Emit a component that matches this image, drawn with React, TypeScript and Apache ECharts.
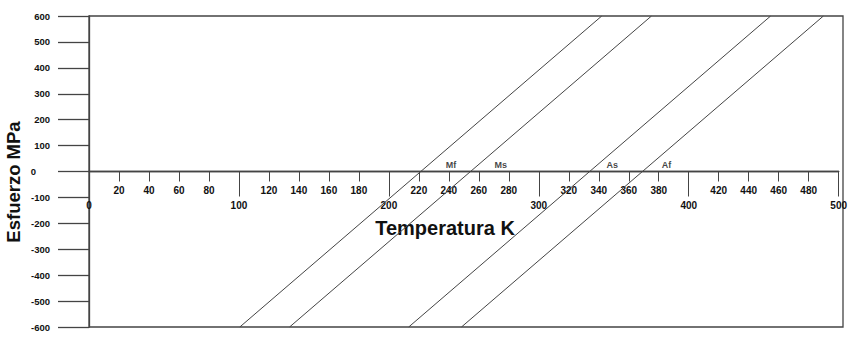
import React, { useEffect, useRef } from "react";
import * as echarts from "echarts";

// Transformation lines (temperature K, stress MPa)
const mfLine: [number, number][] = [[100, -600], [340, 600]];
const msLine: [number, number][] = [[133, -600], [373, 600]];
const asLine: [number, number][] = [[212, -600], [452, 600]];
const afLine: [number, number][] = [[247, -600], [487, 600]];

const lineNames = ["Mf", "Ms", "As", "Af"];
const labelX = [240, 273, 347, 383];
const labelY = [26, 25, 26, 27];

const xMinorTicks = [20, 40, 60, 80, 120, 140, 160, 180, 220, 240, 260, 280, 320, 340, 360, 380, 420, 440, 460, 480];
const xMajorTicks = [0, 100, 200, 300, 400, 500];

const INK = "#111";
const LINE = "#444";

export default function App() {
  const ref = useRef<HTMLDivElement>(null);
  useEffect(() => {
    if (!ref.current) return;
    const chart = echarts.init(ref.current, undefined, { renderer: "svg" });
    const font = "Liberation Sans, Arial, sans-serif";
    const lineSeries = [mfLine, msLine, asLine, afLine].map((d, i) => ({
      type: "line",
      name: lineNames[i],
      data: d,
      symbol: "none",
      lineStyle: { color: LINE, width: 1 },
      xAxisIndex: 0,
      yAxisIndex: 0,
      z: 3,
    }));
    const top = 16;
    const bottom = 10;
    const H = 337;
    const zeroPx = top + (H - top - bottom) / 2; // y = 0 in pixels
    chart.setOption({
      animation: false,
      textStyle: { fontFamily: font },
      grid: [
        {
          left: 89,
          right: 7,
          top,
          bottom,
          show: true,
          borderColor: LINE,
          borderWidth: 1.3,
          containLabel: false,
        },
        {
          left: 89,
          right: 7,
          top,
          bottom: H - zeroPx,
          show: false,
          containLabel: false,
        },
      ],
      xAxis: [
        {
          type: "value",
          gridIndex: 0,
          min: 0,
          max: 500,
          show: false,
        },
        {
          type: "value",
          gridIndex: 1,
          position: "bottom",
          min: 0,
          max: 500,
          interval: 20,
          axisLine: { show: true, onZero: false, lineStyle: { color: LINE, width: 1.3 } },
          axisTick: { show: true, length: 10, inside: false, lineStyle: { color: LINE, width: 1 } },
          axisLabel: {
            show: true,
            margin: 14,
            color: INK,
            fontSize: 10,
            fontWeight: "bold",
            fontFamily: font,
            formatter: (v: number) => (xMinorTicks.indexOf(v) >= 0 ? String(v) : ""),
          },
          splitLine: { show: false },
        },
        {
          type: "value",
          gridIndex: 1,
          position: "bottom",
          min: 0,
          max: 500,
          interval: 100,
          axisLine: { show: true, onZero: false, lineStyle: { color: LINE, width: 1.3 } },
          axisTick: { show: true, length: 25, inside: false, lineStyle: { color: LINE, width: 1 } },
          axisLabel: {
            show: true,
            margin: 29,
            color: INK,
            fontSize: 10,
            fontWeight: "bold",
            fontFamily: font,
            showMaxLabel: true,
            showMinLabel: true,
            formatter: (v: number) => (xMajorTicks.indexOf(v) >= 0 ? String(v) : ""),
          },
          splitLine: { show: false },
        },
      ],
      yAxis: [
        {
          type: "value",
          gridIndex: 0,
          min: -600,
          max: 600,
          interval: 100,
          axisLine: { show: true, onZero: false, lineStyle: { color: LINE, width: 1.3 } },
          axisTick: { show: true, length: 31, inside: false, lineStyle: { color: LINE, width: 1.3 } },
          axisLabel: {
            show: true,
            margin: 39,
            color: INK,
            fontSize: 9.5,
            fontWeight: "bold",
            fontFamily: font,
            formatter: (v: number) => (v === 0 ? "{z|0}" : String(v)),
            rich: {
              z: { padding: [0, 14, 0, 0], fontSize: 9.5, fontWeight: "bold", color: INK },
            },
          },
          splitLine: { show: false },
        },
        {
          type: "value",
          gridIndex: 1,
          min: 0,
          max: 600,
          show: false,
        },
      ],
      graphic: [
        {
          type: "text",
          x: 13,
          y: 182,
          rotation: Math.PI / 2,
          style: {
            text: "Esfuerzo MPa",
            fontSize: 18.5,
            fontWeight: "bold",
            fontFamily: font,
            fill: INK,
            align: "center",
            verticalAlign: "middle",
          },
        },
        {
          type: "text",
          x: 445,
          y: 228,
          style: {
            text: "Temperatura K",
            fontSize: 20,
            fontWeight: "bold",
            fontFamily: font,
            fill: INK,
            align: "center",
            verticalAlign: "middle",
          },
        },
      ],
      series: [
        ...lineSeries,
        {
          type: "scatter",
          xAxisIndex: 0,
          yAxisIndex: 0,
          symbolSize: 0,
          data: lineNames.map((n, i) => ({ name: n, value: [labelX[i], labelY[i]] })),
          label: {
            show: true,
            position: "inside",
            formatter: "{b}",
            color: INK,
            fontSize: 9,
            fontWeight: "bold",
            fontFamily: font,
          },
          z: 4,
        },
      ],
    });
    return () => chart.dispose();
  }, []);
  return (
    <div
      ref={ref}
      style={{ position: "fixed", left: 0, top: 0, width: 850, height: 337, background: "#fff" }}
    />
  );
}
